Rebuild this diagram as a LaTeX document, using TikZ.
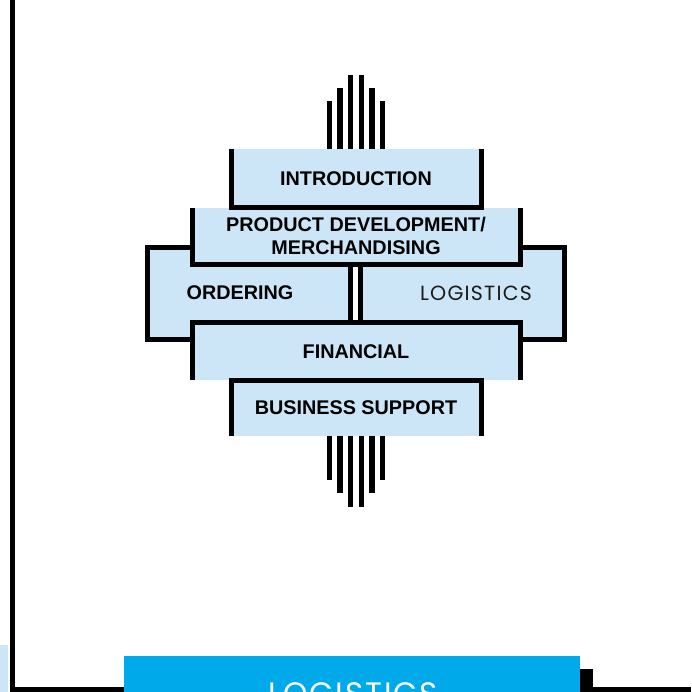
\documentclass[tikz,border=0pt]{standalone}
\usepackage{fontspec}
\setmainfont{Liberation Sans}
\newfontfamily\geofont[LetterSpace=6]{Poppins}
\usetikzlibrary{positioning}
\definecolor{paleblue}{RGB}{204,230,247}
\definecolor{tabblue}{RGB}{0,169,234}

\begin{document}
\begin{tikzpicture}[x=1pt, y=-1pt,
  panel/.style={fill=paleblue, inner sep=0pt, outer sep=0pt, align=center,
    font=\fontsize{19.8}{22.5}\selectfont\bfseries},
  rim/.style={line width=5pt, line cap=butt, line join=miter},
  bar/.style={line width=5.3pt}]
\useasboundingbox (0,0) rectangle (691,692);

\fill[paleblue] (0,645) rectangle (8,692);
\draw[line width=5.5pt] (12.25,0) -- (12.25,689.5) -- (691,689.5);

% ordering / logistics band
\node[panel, draw, rim, minimum width=416.5pt, minimum height=91pt] (band) at (356,293.5) {};
\fill[white] (350.5,264) rectangle (360.5,322.5);
\draw[rim] (350.5,264) -- (350.5,322.5);
\draw[rim] (360.5,264) -- (360.5,322.5);
\node[font=\fontsize{19.8}{22.5}\selectfont\bfseries] (ordering) at (240,293) {ORDERING};
\node[font=\geofont\fontsize{20.5}{20.5}\selectfont, text=black!90] (logistics) at (476,293) {LOGISTICS};

\node[panel, minimum width=328pt, minimum height=56pt] (product) at (356,236) {PRODUCT DEVELOPMENT/\\MERCHANDISING};
\draw[rim] (product.north west) -- (product.south west) -- (product.south east) -- (product.north east);

\node[panel, minimum width=328pt, minimum height=57.5pt] (financial) at (356,351.25) {FINANCIAL};
\draw[rim] (financial.south west) -- (financial.north west) -- (financial.north east) -- (financial.south east);

\node[panel, minimum width=250pt, minimum height=59pt] (intro) at (356,178.5) {INTRODUCTION};
\draw[rim] (intro.north west) -- (intro.south west) -- (intro.south east) -- (intro.north east);

\node[panel, minimum width=250pt, minimum height=55.5pt] (support) at (356,407.75) {BUSINESS SUPPORT};
\draw[rim] (support.south west) -- (support.north west) -- (support.north east) -- (support.south east);

% bars above and below
\foreach \dx/\len in {-26.7/47.7, -16/61, -5.3/74.3, 5.3/74.3, 16/61, 26.7/47.7}
  \draw[bar] ([xshift=\dx pt]intro.north) -- ++(0,-\len);
\foreach \dx/\len in {-26.7/44.5, -16/57, -5.3/71, 5.3/71, 16/57, 26.7/44.5}
  \draw[bar] ([xshift=\dx pt]support.south) -- ++(0,\len);

% tab at the foot
\fill (580,669) rectangle (593,692);
\node[fill=tabblue, minimum width=456pt, minimum height=60pt, inner sep=0pt, outer sep=0pt, anchor=north west] (tab) at (124,656) {};
\node[text=white, font=\geofont\fontsize{31}{31}\selectfont, anchor=base] (tablabel) at (353,704) {LOGISTICS};
\end{tikzpicture}
\end{document}
